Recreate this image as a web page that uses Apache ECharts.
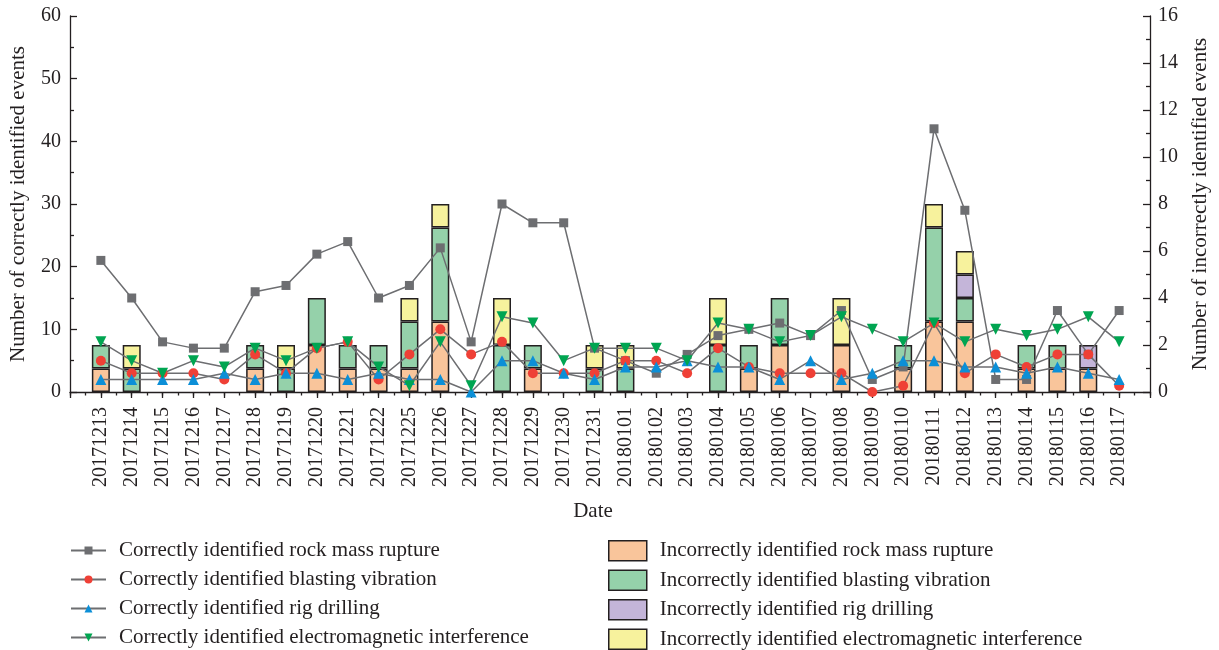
<!DOCTYPE html>
<html>
<head>
<meta charset="utf-8">
<script src="https://cdn.jsdelivr.net/npm/echarts@6/dist/echarts.min.js"></script>
<style>
  html, body { margin: 0; padding: 0; background: #ffffff; }
  #chart { width: 1219px; height: 650px; }
</style>
</head>
<body>
<div id="chart"></div>
<script>
// Monitoring dates (one category per day with records)
const dates = [
  '20171213','20171214','20171215','20171216','20171217','20171218','20171219',
  '20171220','20171221','20171222','20171225','20171226','20171227','20171228',
  '20171229','20171230','20171231','20180101','20180102','20180103','20180104',
  '20180105','20180106','20180107','20180108','20180109','20180110','20180111',
  '20180112','20180113','20180114','20180115','20180116','20180117'
];

// Correctly identified events (left axis)
const correctRupture  = [21,15,8,7,7,16,17,22,24,15,17,23,8,30,27,27,7,5,3,6,9,10,11,9,13,2,4,42,29,2,2,13,6,13];
const correctBlasting = [5,3,3,3,2,6,3,7,8,2,6,10,6,8,3,3,3,5,5,3,7,4,3,3,3,0,1,11,3,6,4,6,6,1];
const correctDrilling = [2,2,2,2,3,2,3,3,2,3,2,2,0,5,5,3,2,4,4,5,4,4,2,5,2,3,5,5,4,4,3,4,3,2];
const correctEmi      = [8,5,3,5,4,7,5,7,8,4,1,8,1,12,11,5,7,7,7,5,11,10,8,9,12,10,8,11,8,10,9,10,12,8];

// Incorrectly identified events (right axis, stacked)
const wrongRupture  = [1,0,0,0,0,1,0,2,1,1,1,3,0,0,1,0,0,0,0,0,0,1,2,0,2,0,1,3,3,0,1,1,1,0];
const wrongBlasting = [1,1,0,0,0,1,1,2,1,1,2,4,0,2,1,0,1,1,0,0,2,1,2,0,0,0,1,4,1,0,1,1,0,0];
const wrongDrilling = [0,0,0,0,0,0,0,0,0,0,0,0,0,0,0,0,0,0,0,0,0,0,0,0,0,0,0,0,1,0,0,0,1,0];
const wrongEmi      = [0,1,0,0,0,0,1,0,0,0,1,1,0,2,0,0,1,1,0,0,2,0,0,0,2,0,0,1,1,0,0,0,0,0];

// Axis ranges
const leftMax = 60, leftStep = 10;
const rightMax = 16, rightStep = 2;

const FONT = 'Liberation Serif';
const INK = '#231f20';
const LINE_GREY = '#6d6e71';

// The date axis keeps one empty slot at each end
const padCats = ['', ...dates, ''];
const padLine = arr => [null, ...arr, null];
const padBar = arr => [null, ...arr.map(v => (v === 0 ? null : v)), null];

function lineSeries(name, data, symbol, color, size, rotate) {
  return {
    name, type: 'line', data: padLine(data),
    xAxisIndex: 0, yAxisIndex: 0,
    symbol, symbolSize: size, symbolRotate: rotate || 0,
    showSymbol: true, connectNulls: false,
    lineStyle: { color: LINE_GREY, width: 1.5 },
    itemStyle: { color, borderWidth: 0 },
    z: 5
  };
}

function barSeries(name, data, color) {
  return {
    name, type: 'bar', data: padBar(data), stack: 'wrong',
    xAxisIndex: 0, yAxisIndex: 1, barWidth: 18,
    itemStyle: { color, borderColor: INK, borderWidth: 1.5 },
    z: 2
  };
}

const tickStyle = { fontFamily: FONT, fontSize: 20, color: INK };
const textStyle = { fontFamily: FONT, fontSize: 21, color: INK };

const option = {
  animation: false,
  backgroundColor: '#ffffff',
  grid: { left: 70, right: 69, top: 16, bottom: 258, containLabel: false },
  xAxis: [
    {
      type: 'category', data: padCats, boundaryGap: false, position: 'bottom',
      name: 'Date', nameLocation: 'middle', nameGap: 109,
      nameTextStyle: { ...textStyle, padding: [0, 34, 0, 0] },
      axisLine: { lineStyle: { color: INK, width: 1.3 } },
      axisTick: { show: true, interval: 0, length: 6, lineStyle: { color: INK, width: 1.3 } },
      axisLabel: { ...tickStyle, rotate: 90, interval: 0, margin: 15 },
      splitLine: { show: false }
    },
    {
      // half-step minor ticks along the date axis
      type: 'value', min: 0, max: 35, interval: 0.5, position: 'bottom',
      axisLine: { show: false },
      axisTick: { show: true, length: 3.5, lineStyle: { color: INK, width: 1.3 } },
      axisLabel: { show: false },
      splitLine: { show: false }
    }
  ],
  yAxis: [
    {
      type: 'value', min: 0, max: leftMax, interval: leftStep, position: 'left',
      name: 'Number of correctly identified events', nameLocation: 'middle',
      nameGap: 41, nameRotate: 90, nameTextStyle: textStyle,
      axisLine: { show: true, lineStyle: { color: INK, width: 1.3 } },
      axisTick: { show: true, inside: true, length: 7, lineStyle: { color: INK, width: 1.3 } },
      minorTick: { show: true, splitNumber: 2, length: 4, lineStyle: { color: INK, width: 1.3 } },
      axisLabel: { ...tickStyle, margin: 9 },
      splitLine: { show: false }
    },
    {
      type: 'value', min: 0, max: rightMax, interval: rightStep, position: 'right',
      name: 'Number of incorrectly identified events', nameLocation: 'middle',
      nameGap: 40, nameRotate: 90, nameTextStyle: textStyle,
      axisLine: { show: true, lineStyle: { color: INK, width: 1.3 } },
      axisTick: { show: true, inside: true, length: 7, lineStyle: { color: INK, width: 1.3 } },
      minorTick: { show: true, splitNumber: 2, length: 4, lineStyle: { color: INK, width: 1.3 } },
      axisLabel: { ...tickStyle, margin: 8 },
      splitLine: { show: false }
    }
  ],
  legend: [
    {
      orient: 'vertical', left: 70, top: 540, height: 120, padding: 0,
      itemWidth: 35, itemHeight: 10, itemGap: 8,
      textStyle: { ...textStyle, lineHeight: 20, padding: [0, 0, 0, 8] },
      itemStyle: { borderWidth: 0 },
      data: [
        'Correctly identified rock mass rupture',
        'Correctly identified blasting vibration',
        'Correctly identified rig drilling',
        'Correctly identified electromagnetic interference'
      ]
    },
    {
      orient: 'vertical', left: 608, top: 540, height: 120, padding: 0,
      icon: 'rect',
      itemWidth: 38, itemHeight: 20, itemGap: 8,
      textStyle: { ...textStyle, lineHeight: 20, padding: [0, 0, 0, 8] },
      itemStyle: { borderColor: INK, borderWidth: 1.5 },
      data: [
        'Incorrectly identified rock mass rupture',
        'Incorrectly identified blasting vibration',
        'Incorrectly identified rig drilling',
        'Incorrectly identified electromagnetic interference'
      ]
    }
  ],
  series: [
    barSeries('Incorrectly identified rock mass rupture', wrongRupture, '#f9c59b'),
    barSeries('Incorrectly identified blasting vibration', wrongBlasting, '#95d1aa'),
    barSeries('Incorrectly identified rig drilling', wrongDrilling, '#c4b5d9'),
    barSeries('Incorrectly identified electromagnetic interference', wrongEmi, '#f7f29d'),
    lineSeries('Correctly identified rock mass rupture', correctRupture, 'rect', LINE_GREY, 9),
    lineSeries('Correctly identified blasting vibration', correctBlasting, 'circle', '#ef4036', 10),
    lineSeries('Correctly identified rig drilling', correctDrilling, 'triangle', '#0c8fd7', 11),
    lineSeries('Correctly identified electromagnetic interference', correctEmi, 'triangle', '#00a551', 11, 180)
  ]
};

const chart = echarts.init(document.getElementById('chart'), null, { renderer: 'canvas' });
chart.setOption(option);
</script>
</body>
</html>
